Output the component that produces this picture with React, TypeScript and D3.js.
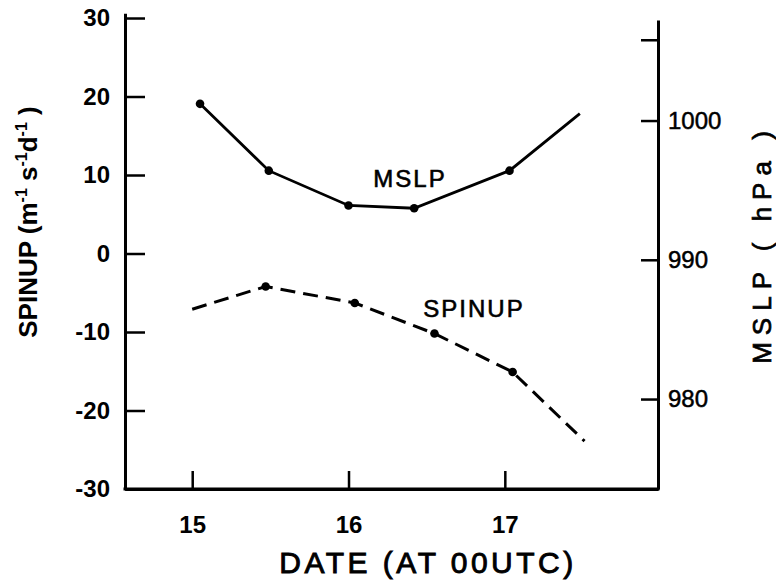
import React, { useEffect, useRef } from 'react';
import * as d3 from 'd3';

// values
const mslpDates = [15.05, 15.49, 16.0, 16.42, 17.03, 17.48];
const mslpValues = [1001.2, 996.4, 993.9, 993.7, 996.4, 1000.5];
const mslpDots = [true, true, true, true, true, false];

const spinupDates = [15.0, 15.47, 16.04, 16.55, 17.05, 17.51];
const spinupValues = [-7.1, -4.2, -6.3, -10.2, -15.1, -23.9];
const spinupDots = [false, true, true, true, true, false];

const dateTicks = [15, 16, 17];
const spinupTicks = [-30, -20, -10, 0, 10, 20, 30];
const mslpTicks = [980, 990, 1000, 1005.8];
const mslpTickLabels = ['980', '990', '1000', ''];

const W = 776;
const H = 586;
const FONT = '"Liberation Sans", Arial, sans-serif';

function App() {
    const ref = useRef<SVGSVGElement>(null);

    useEffect(() => {
        const svg = d3.select(ref.current);
        svg.selectAll('*').remove();

        const x = d3.scaleLinear().domain([14.57, 17.98]).range([125, 658]);
        const yLeft = d3.scaleLinear().domain([-30, 30.6]).range([489, 13.3]);
        const yRight = d3.scaleLinear().domain([973.54, 1007.22]).range([489, 20]);

        // axes
        const gx = svg.append('g').attr('transform', 'translate(0,489)');
        gx.call(
            d3.axisBottom(x)
                .tickValues(dateTicks)
                .tickSizeInner(-18)
                .tickSizeOuter(0)
                .tickPadding(27)
                .tickFormat((d) => String(d))
        );

        const gl = svg.append('g').attr('transform', 'translate(125,0)');
        gl.call(
            d3.axisLeft(yLeft)
                .tickValues(spinupTicks)
                .tickSizeInner(-20)
                .tickSizeOuter(0)
                .tickPadding(15)
                .tickFormat((d) => String(d))
        );

        const gr = svg.append('g').attr('transform', 'translate(658,0)');
        gr.call(
            d3.axisRight(yRight)
                .tickValues(mslpTicks)
                .tickSizeInner(-17)
                .tickSizeOuter(0)
                .tickPadding(10)
                .tickFormat((d, i) => mslpTickLabels[i])
        );

        [gx, gl, gr].forEach((g) => {
            g.select('.domain').attr('stroke', '#000').attr('stroke-width', 3);
            g.selectAll('.tick line').attr('stroke', '#000').attr('stroke-width', 2.5);
            g.selectAll('.tick text')
                .attr('fill', '#000')
                .style('font-family', FONT)
                .style('font-size', '24px');
        });
        gx.selectAll('.tick text').style('font-weight', 'bold');
        gl.selectAll('.tick text').style('font-weight', 'bold');
        gr.selectAll('.tick text').attr('stroke', '#000').attr('stroke-width', 0.5);

        // bottom line joined to both vertical axes
        svg.append('line')
            .attr('x1', 123.5).attr('x2', 659.5)
            .attr('y1', 489).attr('y2', 489)
            .attr('stroke', '#000').attr('stroke-width', 3);

        // MSLP (solid)
        const mslp = mslpDates.map((d, i) => ({ d, v: mslpValues[i], dot: mslpDots[i] }));
        svg.append('path')
            .datum(mslp)
            .attr('fill', 'none')
            .attr('stroke', '#000')
            .attr('stroke-width', 2.8)
            .attr('d', d3.line<any>().x((p) => x(p.d)).y((p) => yRight(p.v)));
        svg.selectAll('.mdot')
            .data(mslp.filter((p) => p.dot))
            .join('circle')
            .attr('class', 'mdot')
            .attr('cx', (p) => x(p.d))
            .attr('cy', (p) => yRight(p.v))
            .attr('r', 4.3)
            .attr('fill', '#000');

        // SPINUP (dashed)
        const spin = spinupDates.map((d, i) => ({ d, v: spinupValues[i], dot: spinupDots[i] }));
        svg.append('path')
            .datum(spin)
            .attr('fill', 'none')
            .attr('stroke', '#000')
            .attr('stroke-width', 3)
            .attr('stroke-dasharray', '15 8')
            .attr('d', d3.line<any>().x((p) => x(p.d)).y((p) => yLeft(p.v)));
        svg.selectAll('.sdot')
            .data(spin.filter((p) => p.dot))
            .join('circle')
            .attr('class', 'sdot')
            .attr('cx', (p) => x(p.d))
            .attr('cy', (p) => yLeft(p.v))
            .attr('r', 4.3)
            .attr('fill', '#000');

        // curve labels
        const label = (tx, ty, t) =>
            svg.append('text')
                .attr('x', tx).attr('y', ty)
                .attr('text-anchor', 'middle')
                .attr('stroke', '#000').attr('stroke-width', 0.6)
                .style('font-family', FONT).style('font-size', '24px')
                .style('letter-spacing', '2px')
                .text(t);
        label(410, 187, 'MSLP');
        label(474, 317, 'SPINUP');

        // axis titles
        svg.append('text')
            .attr('x', 428).attr('y', 573)
            .attr('text-anchor', 'middle')
            .attr('stroke', '#000').attr('stroke-width', 0.9)
            .style('font-family', FONT).style('font-size', '30px')
            .style('letter-spacing', '3.5px')
            .text('DATE (AT 00UTC)');

        const lt = svg.append('text')
            .attr('transform', 'translate(37,222) rotate(-90)')
            .attr('text-anchor', 'middle')
            .style('font-family', FONT).style('font-size', '26px')
            .style('font-weight', 'bold');
        lt.append('tspan').text('SPINUP (m');
        lt.append('tspan').attr('dy', -10).style('font-size', '16px').text('-1');
        lt.append('tspan').attr('dy', 10).text(' s');
        lt.append('tspan').attr('dy', -10).style('font-size', '16px').text('-1');
        lt.append('tspan').attr('dy', 10).text('d');
        lt.append('tspan').attr('dy', -10).style('font-size', '16px').text('-1');
        lt.append('tspan').attr('dy', 10).text(' )');

        svg.append('text')
            .attr('transform', 'translate(771,244) rotate(-90)')
            .attr('text-anchor', 'middle')
            .attr('stroke', '#000').attr('stroke-width', 0.7)
            .style('font-family', FONT).style('font-size', '26px')
            .style('letter-spacing', '7px')
            .text('MSLP ( hPa )');
    }, []);

    return (
        <svg
            ref={ref}
            width={W}
            height={H}
            style={{ position: 'absolute', left: 0, top: 0, background: '#fff' }}
        />
    );
}

export default App;
